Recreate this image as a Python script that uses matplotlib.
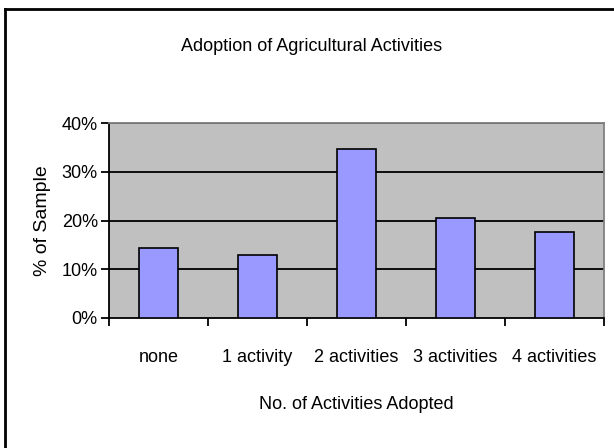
import matplotlib
matplotlib.use('Agg')
import matplotlib.pyplot as plt
from matplotlib.lines import Line2D
from matplotlib.ticker import FuncFormatter, FixedLocator

plt.rcParams['font.family'] = ['Liberation Sans Narrow', 'Liberation Sans', 'DejaVu Sans']

categories = ['none', '1 activity', '2 activities', '3 activities', '4 activities']
pct_sample = [14.3, 12.9, 34.7, 20.5, 17.6]
y_ticks = [0, 10, 20, 30, 40]

fig = plt.figure(figsize=(6.14, 4.48), dpi=100)
ax = fig.add_axes([0.1775, 0.2902, 0.8062, 0.4352])

x = range(len(categories))
ax.bar(x, pct_sample, width=0.4, color='#9999FF', edgecolor='black', linewidth=1.2, zorder=3)

ax.set_facecolor('#C0C0C0')
ax.set_xlim(-0.5, len(categories) - 0.5)
ax.set_ylim(0, 40)
ax.set_yticks(y_ticks)
ax.yaxis.set_major_formatter(FuncFormatter(lambda v, p: '%d%%' % v))
for v in y_ticks[1:]:
    ax.axhline(v, color='black', linewidth=1.3, zorder=2)

# category labels centered, tick marks between categories
ax.set_xticks(list(x))
ax.set_xticklabels(categories, fontsize=13)
ax.tick_params(axis='x', length=0, pad=22)
ax.xaxis.set_minor_locator(FixedLocator([i - 0.5 for i in range(len(categories) + 1)]))
ax.tick_params(axis='x', which='minor', length=6, width=1.3, color='black', direction='out')
ax.tick_params(axis='y', length=6, width=1.3, labelsize=13, pad=2)

ax.spines['left'].set_linewidth(1.3)
ax.spines['bottom'].set_linewidth(1.3)
ax.spines['top'].set_color('#808080')
ax.spines['right'].set_color('#808080')
ax.spines['top'].set_linewidth(1.3)
ax.spines['right'].set_linewidth(1.3)

ax.set_ylabel('% of Sample', fontsize=14, labelpad=8)
ax.set_xlabel('No. of Activities Adopted', fontsize=13, labelpad=22)
fig.text(0.508, 0.897, 'Adoption of Agricultural Activities', ha='center', va='center', fontsize=13)

# chart border (only top and left visible in the reference)
fig.add_artist(Line2D([5 / 614, 5 / 614], [0, 1 - 9 / 448], transform=fig.transFigure, color='black', linewidth=2))
fig.add_artist(Line2D([5 / 614, 1], [1 - 9 / 448, 1 - 9 / 448], transform=fig.transFigure, color='black', linewidth=2))

fig.savefig('out.png', dpi=100)
